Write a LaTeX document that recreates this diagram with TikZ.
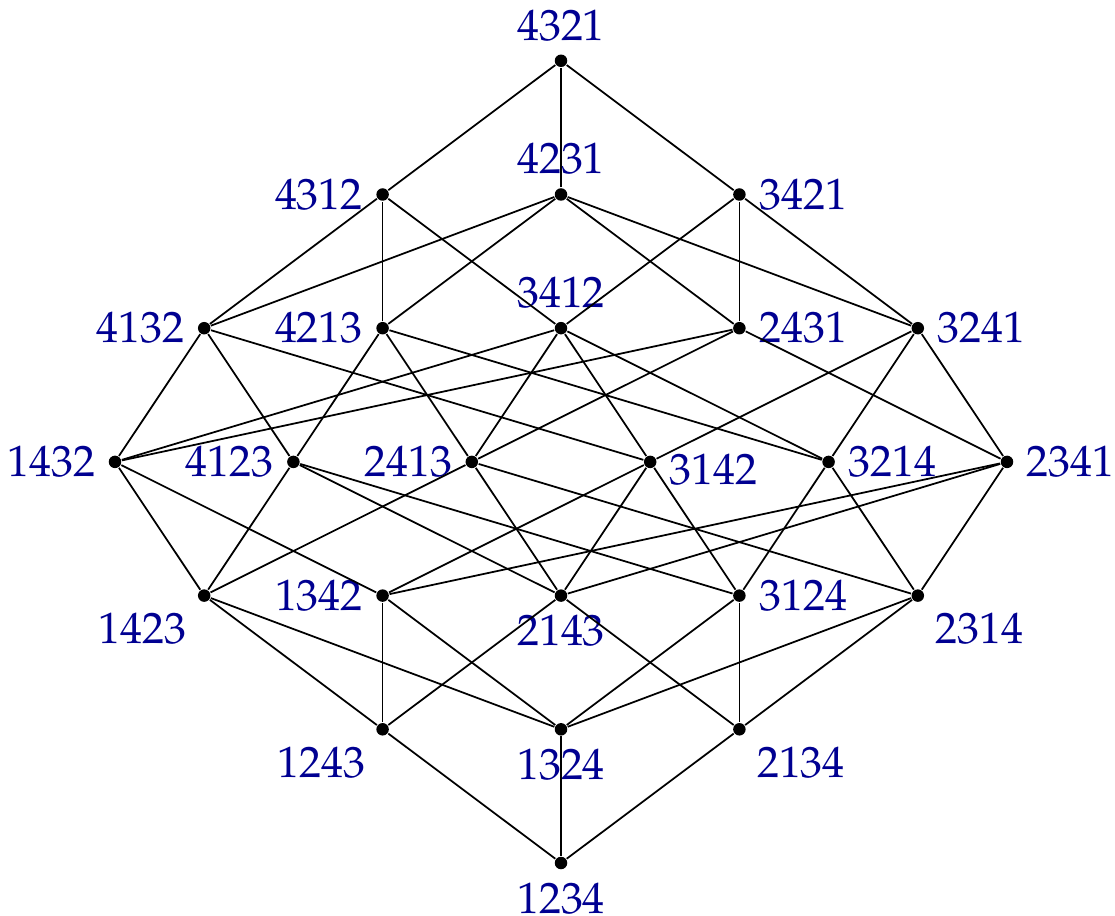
\documentclass[tikz,border=0pt]{standalone}
\usepackage[T1]{fontenc}
\usepackage{mathpazo}
\usepackage{tikz}
\usetikzlibrary{positioning}
\definecolor{labelblue}{RGB}{0,0,145}

\begin{document}
\begin{tikzpicture}[x=0.892cm, y=1.337cm,
    vert/.style={circle, fill=black, inner sep=0pt, minimum size=0.125cm},
    every label/.style={text=labelblue, font=\fontsize{12.5}{15}\selectfont},
    every path/.style={line width=0.5pt}]
    \useasboundingbox (-5.61cm,-0.52cm) rectangle (5.54cm,8.63cm);
    % rank 0
    \node[vert, label=below:1234] (p1234) at (0,0) {};
    % rank 1
    \node[vert, label=below left:1243] (p1243) at (-2,1) {};
    \node[vert, label=below:1324] (p1324) at (0,1) {};
    \node[vert, label=below right:2134] (p2134) at (2,1) {};
    % rank 2
    \node[vert, label=below left:1423] (p1423) at (-4,2) {};
    \node[vert, label=left:1342] (p1342) at (-2,2) {};
    \node[vert, label=below:2143] (p2143) at (0,2) {};
    \node[vert, label=right:3124] (p3124) at (2,2) {};
    \node[vert, label=below right:2314] (p2314) at (4,2) {};
    % rank 3
    \node[vert, label=left:1432] (p1432) at (-5,3) {};
    \node[vert, label=left:4123] (p4123) at (-3,3) {};
    \node[vert, label=left:2413] (p2413) at (-1,3) {};
    \node[vert, label={[yshift=-0.08cm]right:3142}] (p3142) at (1,3) {};
    \node[vert, label=right:3214] (p3214) at (3,3) {};
    \node[vert, label=right:2341] (p2341) at (5,3) {};
    % rank 4
    \node[vert, label=left:4132] (p4132) at (-4,4) {};
    \node[vert, label=left:4213] (p4213) at (-2,4) {};
    \node[vert, label=above:3412] (p3412) at (0,4) {};
    \node[vert, label=right:2431] (p2431) at (2,4) {};
    \node[vert, label=right:3241] (p3241) at (4,4) {};
    % rank 5
    \node[vert, label=left:4312] (p4312) at (-2,5) {};
    \node[vert, label=above:4231] (p4231) at (0,5) {};
    \node[vert, label=right:3421] (p3421) at (2,5) {};
    % rank 6
    \node[vert, label=above:4321] (p4321) at (0,6) {};
    % cover relations
    \foreach \a/\b in {1234/1243, 1234/1324, 1234/2134,
        1243/2143, 1243/1423, 1243/1342,
        1324/3124, 1324/2314, 1324/1423, 1324/1342,
        2134/3124, 2134/2314, 2134/2143,
        1423/4123, 1423/2413, 1423/1432,
        1342/3142, 1342/2341, 1342/1432,
        2143/4123, 2143/3142, 2143/2413, 2143/2341,
        3124/4123, 3124/3214, 3124/3142,
        2314/3214, 2314/2413, 2314/2341,
        1432/4132, 1432/3412, 1432/2431,
        4123/4213, 4123/4132,
        2413/4213, 2413/3412, 2413/2431,
        3142/4132, 3142/3412, 3142/3241,
        3214/4213, 3214/3412, 3214/3241,
        2341/3241, 2341/2431,
        4132/4312, 4132/4231, 4213/4312, 4213/4231,
        3412/4312, 3412/3421, 2431/4231, 2431/3421,
        3241/4231, 3241/3421,
        4312/4321, 4231/4321, 3421/4321}
        \draw (p\a) -- (p\b);
\end{tikzpicture}
\end{document}
